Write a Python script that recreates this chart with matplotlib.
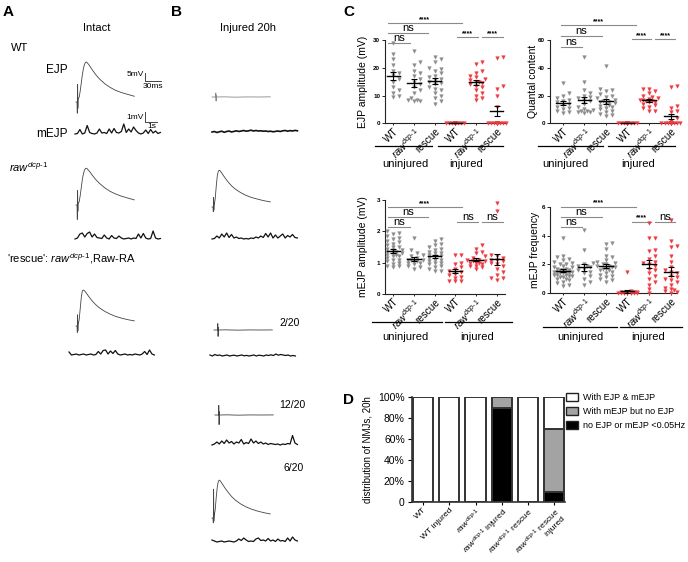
import numpy as np
import matplotlib
matplotlib.use('Agg')
import matplotlib.pyplot as plt
from matplotlib.lines import Line2D
from matplotlib.patches import Patch

plt.rcParams['font.family'] = ['Liberation Sans', 'DejaVu Sans']
plt.rcParams['mathtext.fontset'] = 'custom'
plt.rcParams['mathtext.rm'] = 'Liberation Sans'
plt.rcParams['mathtext.it'] = 'Liberation Sans:italic'
plt.rcParams['mathtext.bf'] = 'Liberation Sans:bold'

RAW = r'$\mathit{raw}^{\mathit{dcp}\text{-}\mathit{1}}$'

# ---------------- data: traces (A, B) ----------------
EJP_T = [0, 2, 2.5, 3, 3.5, 4, 6, 8, 10, 12, 14, 16, 18, 20, 25, 31, 37, 44, 54, 64, 74, 85, 97, 110]  # ms
EJP_WT_A = [0, 0, -7, 11, -4, 2, 3, 7, 12, 17, 21, 23.5, 24.8, 25, 23, 20, 17.2, 14.5, 11.5, 9.2, 7.4, 6, 4.8, 3.6]
EJP_RAW_A = [0, 0, -9, 9, -4, 1, 2, 6, 11, 16, 19.5, 21.8, 22.8, 23, 21.2, 18.5, 16, 13.6, 10.8, 8.6, 7, 5.6, 4.4, 3.2]
EJP_RESC_A = [0, 0, -4, 7, -3, 1, 4, 11, 18, 22, 22.5, 22, 21.2, 20.3, 18, 15.5, 13.4, 11.4, 9.2, 7.5, 6.1, 5, 4, 3.2]
EJP_RAW_B = [0, 0, -3, 6, -2, 1, 5, 13, 19.5, 22.5, 23, 22.4, 21.4, 20.4, 18, 15.4, 13.2, 11.2, 9, 7.3, 6, 5, 4, 3.2]
EJP_620_B = [0, 0, -3, 18, -2, 1, 5, 13, 19.5, 23, 23.7, 23, 22, 21, 18.5, 15.8, 13.4, 11.2, 8.8, 7, 5.6, 4.4, 3.4, 2.5]
FLAT_T = [0, 6, 6.5, 7, 7.5, 8, 20, 40, 60, 80, 100]  # ms
EJP_WT_B = [0, 0, 2.5, -2.5, 1, 0, 0.1, -0.1, 0.05, 0, 0.1]
EJP_220_B = [0, 0, 4, -4, 1.5, 0, 0.1, -0.1, 0.05, 0, 0.05]
EJP_1220_B = [0, 0, 6, -6, 2, 0, 0.1, -0.1, 0.05, 0, 0.05]

MEJP_DT = 0.2  # s per sample
MEJP_WT_A = [0.0, 0.05, 0.45, 0.0, 0.1, 0.85, 0.15, 0.05, 0.0, 0.1, 0.5, 0.1, 0.15, 0.05, 0.5, 0.1, 0.55, 0.15,
             0.1, 0.25, 1.0, 0.15, 0.5, 0.2, 0.7, 0.35, 0.1, 0.0, 0.1, 0.4, 0.05, 0.45, 0.1, 0.3, 0.05, 0.15]
MEJP_RAW_A = [0.0, 0.1, 0.5, 0.6, 0.2, 0.55, 0.7, 0.2, 0.5, 0.15, 0.1, 0.05, 0.4, 0.1, 0.0, 0.35, 0.1, 0.05,
              0.3, 0.1, 0.0, 0.05, 0.1, 0.0, 0.1, 0.05, 0.5, 0.1, 0.55, 0.1, 0.0, 0.05, 0.8, 0.1, 0.0, 0.05]
MEJP_RESC_A = [0.3, 0.0, 0.05, 0.1, 0.0, 0.05, 0.1, 0.0, 0.05, 0.1, 0.0, 0.05, 0.35, 0.1, 0.45, 0.5, 0.1, 0.4,
               0.15, 0.45, 0.1, 0.0, 0.05, 0.1, 0.0, 0.05, 0.0, 0.1, 0.05, 0.0, 0.1, 0.35, 0.05, 0.5, 0.1, 0.0]
MEJP_WT_B = [0.0, 0.05, -0.05, 0.02, 0.08, -0.03, 0.05, 0.1, 0.0, 0.06, 0.12, 0.05, 0.1, 0.15, 0.08, 0.12, 0.18, 0.1,
             0.15, 0.1, 0.12, 0.08, 0.1, 0.05, 0.08, 0.02, 0.06, 0.1, 0.05, 0.12, 0.15, 0.08, 0.14, 0.1, 0.16, 0.12]
MEJP_RAW_B = [0.0, 0.05, 0.3, 0.1, 0.5, 0.2, 0.6, 0.15, 0.45, 0.1, 0.2, 0.05, 0.1, 0.0, 0.05, 0.0, 0.1, 0.05,
              0.2, 0.1, 0.3, 0.15, 0.55, 0.2, 0.6, 0.1, 0.4, 0.1, 0.3, 0.5, 0.1, 0.35, 0.2, 0.45, 0.15, 0.1]
MEJP_220_B = [0.1, 0.0, 0.15, 0.05, 0.1, 0.0, 0.05, 0.1, 0.0, 0.05, 0.08, 0.0, 0.05, 0.1, 0.02, 0.06, 0.0, 0.05,
              0.1, 0.0, 0.08, 0.05, 0.0, 0.1, 0.05, 0.12, 0.05, 0.2, 0.08, 0.15, 0.1, 0.05, 0.1, 0.0, 0.05, 0.0]
MEJP_1220_B = [0.0, 0.1, 0.3, 0.1, 0.4, 0.15, 0.5, 0.2, 0.35, 0.1, 0.3, 0.2, 0.55, 0.1, 0.25, 0.15, 0.6, 0.2,
               0.4, 0.15, 0.3, 0.1, 0.2, 0.05, 0.15, 0.1, 0.05, 0.1, 0.0, 0.1, 0.05, 0.15, 0.1, 0.95, 0.2, 0.05]
MEJP_620_B = [0.2, 0.1, 0.0, 0.05, 0.1, 0.0, 0.05, 0.1, 0.05, 0.0, 0.1, 0.3, 0.15, 0.4, 0.2, 0.05, 0.1, 0.05,
              0.3, 0.4, 0.15, 0.2, 0.1, 0.35, 0.1, 0.2, 0.05, 0.3, 0.1, 0.15, 0.05, 0.4, 0.1, 0.5, 0.2, 0.1]

# ---------------- data: panel C ----------------
C_GROUPS = ['WT', RAW, 'rescue', 'WT', RAW, 'rescue']
EJP_AMP = [
    [29, 25, 23, 21, 19, 18, 17.5, 16, 15, 13, 12, 11, 10, 9.5],
    [26, 22, 21, 19, 18, 17, 16, 15, 14, 12, 11, 9, 8.5, 8, 8, 8.5, 13],
    [24, 23, 22, 20, 19.5, 19, 18, 17, 16, 15.5, 15, 14, 13, 12.5, 12, 11, 10, 9, 8, 7, 14.5, 16.5],
    [0] * 14,
    [22, 21.5, 19, 18, 17, 16.5, 16, 15.5, 15, 14.5, 14, 13, 12, 11, 10, 9, 8.5, 13.5, 15],
    [24, 23.5, 13.5, 12.5, 10, 6] + [0] * 14,
]
QUANTAL = [
    [29, 22, 20, 18, 17, 16, 15, 14, 13, 12, 11, 10, 9, 8, 7.5],
    [48, 30, 24, 22, 20, 19, 18, 17, 16, 14, 12, 10, 9, 8.5, 8, 8, 7.5, 9.5],
    [41, 25, 24, 23, 21, 20, 19, 18, 17, 16, 15.5, 15, 14, 13, 12, 11, 10, 9, 8, 7, 6, 5.5, 12.5, 14.5],
    [0] * 14,
    [25, 25, 23, 22, 20, 19, 18, 17.5, 17, 16.5, 16, 15.5, 15, 14, 13, 12, 11, 9, 8.5, 16],
    [27, 26.5, 12.5, 11, 9, 8, 4, 2] + [0] * 12,
]
MEJP_AMP = [
    [2.0, 1.95, 1.9, 1.85, 1.8, 1.75, 1.7, 1.65, 1.6, 1.55, 1.5, 1.45, 1.4, 1.4, 1.35, 1.3, 1.3, 1.25, 1.2, 1.2,
     1.15, 1.1, 1.1, 1.05, 1.0, 0.95, 0.9, 0.9, 0.85, 1.25, 1.35, 1.5],
    [1.8, 1.4, 1.3, 1.25, 1.2, 1.15, 1.1, 1.1, 1.05, 1.0, 1.0, 0.95, 0.9, 0.85, 0.8, 1.05, 1.1],
    [1.75, 1.7, 1.6, 1.55, 1.5, 1.45, 1.4, 1.35, 1.3, 1.25, 1.2, 1.2, 1.15, 1.1, 1.05, 1.0, 0.95, 0.9, 0.85, 0.8,
     0.75, 0.75, 1.3, 1.1, 1.0],
    [1.25, 1.25, 1.0, 0.95, 0.85, 0.8, 0.75, 0.7, 0.65, 0.6, 0.5, 0.4, 0.4, 0.4, 0.55],
    [1.55, 1.45, 1.35, 1.3, 1.2, 1.15, 1.1, 1.05, 1.05, 1.0, 1.0, 0.95, 0.9, 0.9, 0.85, 0.8, 1.1, 1.0],
    [2.9, 2.65, 1.25, 1.2, 1.15, 1.1, 1.05, 1.0, 0.95, 0.9, 0.8, 0.7, 0.6, 0.5, 0.5, 0.45, 1.1],
]
MEJP_FREQ = [
    [3.85, 2.6, 2.5, 2.4, 2.3, 2.2, 2.1, 2.0, 2.0, 1.9, 1.8, 1.8, 1.7, 1.7, 1.6, 1.6, 1.5, 1.5, 1.5, 1.4, 1.4,
     1.3, 1.3, 1.2, 1.2, 1.1, 1.1, 1.0, 1.0, 0.9, 0.8, 0.7, 0.6, 0.5, 1.5, 1.6, 1.4, 1.3],
    [4.4, 3.0, 2.0, 1.9, 1.8, 1.7, 1.6, 1.5, 1.4, 1.2, 1.0, 0.8, 0.6, 1.9, 2.1],
    [3.5, 3.4, 3.1, 2.6, 2.5, 2.3, 2.2, 2.1, 2.0, 1.9, 1.8, 1.8, 1.7, 1.6, 1.5, 1.4, 1.3, 1.2, 1.1, 1.0, 0.9,
     0.8, 1.7, 1.9, 2.0, 1.6],
    [1.5, 0.15, 0.1, 0.1, 0.05, 0.05, 0.05, 0, 0, 0, 0, 0, 0.05, 0.1, 0.1, 0],
    [4.9, 3.8, 3.8, 3.0, 2.9, 2.6, 2.4, 2.2, 2.0, 1.9, 1.7, 1.6, 1.4, 1.2, 1.0, 0.8, 0.6, 0.3, 0.0, 2.1],
    [5.1, 3.6, 3.3, 3.2, 2.6, 2.2, 1.8, 1.6, 1.5, 1.4, 1.2, 1.1, 0.9, 0.8, 0.6, 0.4, 0.3, 0.2, 0.15, 0.1, 0.05, 1.0],
]

# ---------------- data: panel D ----------------
D_LABELS = ['WT', 'WT injured', RAW, RAW + ' injured', RAW + ' rescue', RAW + ' rescue\ninjured']
D_BLACK = [0, 0, 0, 90, 0, 10]
D_GREY = [0, 0, 0, 10, 0, 60]
D_WHITE = [100, 100, 100, 0, 100, 30]
D_LEGEND = ['With EJP & mEJP', 'With mEJP but no EJP', 'no EJP or mEJP <0.05Hz']

# ---------------- figure helpers ----------------
W, H = 688, 562
fig = plt.figure(figsize=(W / 100, H / 100), dpi=100)
fig.patch.set_facecolor('white')


def px_axes(x0, y0, x1, y1):
    return fig.add_axes([x0 / W, 1 - y1 / H, (x1 - x0) / W, (y1 - y0) / H])


def ftext(x, y, s, **kw):
    kw.setdefault('va', 'center')
    return fig.text(x / W, 1 - y / H, s, **kw)


def fline(x0, x1, y, color='k', lw=0.9):
    fig.add_artist(Line2D([x0 / W, x1 / W], [1 - y / H, 1 - y / H], color=color, lw=lw,
                          transform=fig.transFigure))


EJP_XS = 0.53   # px per ms
EJP_YS = 1.6    # px per mV
M_XS = 12.2     # px per s
M_YS = 10.0     # px per mV


def trace(x0, ybase, t, v, xs, ys, lw=0.6, color='#444444'):
    t = np.asarray(t, float)
    v = np.asarray(v, float)
    lo, hi = v.min(), v.max()
    ax = px_axes(x0 + t[0] * xs, ybase - hi * ys, x0 + t[-1] * xs, ybase - lo * ys)
    ax.plot(t, v, color=color, lw=lw, clip_on=False, solid_joinstyle='round')
    ax.set_xlim(t[0], t[-1])
    ax.set_ylim(lo, hi)
    ax.axis('off')
    return ax


def mejp(x0, ybase, v, lw=0.9):
    t = np.arange(len(v)) * MEJP_DT
    return trace(x0, ybase, t, v, M_XS, M_YS, lw=lw, color='#111111')


# ---------------- panels A & B ----------------
ftext(3, 12, 'A', fontsize=11, fontweight='bold')
ftext(171, 12, 'B', fontsize=11, fontweight='bold')
ftext(97, 28, 'Intact', fontsize=8, ha='center')
ftext(248, 28, 'Injured 20h', fontsize=8, ha='center')
ftext(11, 48, 'WT', fontsize=8)
ftext(68, 70, 'EJP', fontsize=8.5, ha='right')
ftext(68, 134, 'mEJP', fontsize=8.5, ha='right')
ftext(9, 167, RAW, fontsize=8)
ftext(7, 259, "'rescue': " + RAW + ",Raw-RA", fontsize=8)

trace(76, 102, EJP_T, EJP_WT_A, EJP_XS, EJP_YS)
trace(76, 205, EJP_T, EJP_RAW_A, EJP_XS, EJP_YS)
trace(76, 326, EJP_T, EJP_RESC_A, EJP_XS, EJP_YS)
mejp(75, 134, MEJP_WT_A)
mejp(75, 239, MEJP_RAW_A)
mejp(69, 355, MEJP_RESC_A)

# scale bars
sb = px_axes(145, 72.5, 145 + 30 * EJP_XS, 72.5 + 5 * EJP_YS)
sb.plot([0, 0, 30], [5, 0, 0], color='#444444', lw=0.7, clip_on=False)
sb.set_xlim(0, 30); sb.set_ylim(0, 5); sb.axis('off')
ftext(144, 75, '5mV', fontsize=6, ha='right')
ftext(153, 86, '30ms', fontsize=6, ha='center')
sb2 = px_axes(145, 112, 145 + 1 * M_XS, 112 + 1 * M_YS)
sb2.plot([0, 0, 1], [1, 0, 0], color='#444444', lw=0.7, clip_on=False)
sb2.set_xlim(0, 1); sb2.set_ylim(0, 1); sb2.axis('off')
ftext(144, 117, '1mV', fontsize=6, ha='right')
ftext(152, 127, '1s', fontsize=6, ha='center')

trace(212, 97, FLAT_T, EJP_WT_B, EJP_XS * 1.1, EJP_YS, color='#888888')
mejp(212, 132, MEJP_WT_B, lw=1.2)
trace(212, 207, EJP_T, EJP_RAW_B, EJP_XS, EJP_YS)
mejp(212, 239, MEJP_RAW_B)
trace(214, 330, FLAT_T, EJP_220_B, EJP_XS * 1.1, EJP_YS)
mejp(210, 356, MEJP_220_B)
trace(215, 415, FLAT_T, EJP_1220_B, EJP_XS * 1.1, EJP_YS)
mejp(212, 445, MEJP_1220_B)
trace(212, 518, EJP_T, EJP_620_B, EJP_XS, EJP_YS)
mejp(212, 542, MEJP_620_B)
ftext(279, 323, '2/20', fontsize=7.5)
ftext(279, 405, '12/20', fontsize=7.5)
ftext(284, 468, '6/20', fontsize=7.5)

# ---------------- panel C ----------------
GREY = '#8c8c8c'
RED = '#ee3b42'
ftext(343, 12, 'C', fontsize=11, fontweight='bold')


def swarm(vals, ppu, step=3.0, size=3.6, maxoff=9.0):
    vals = np.asarray(vals, float)
    offs = np.zeros(len(vals))
    placed = []
    cands = [0.0]
    k = 1
    while k * step <= maxoff:
        cands += [k * step, -k * step]
        k += 1
    for i in np.argsort(vals, kind='stable'):
        y = vals[i] * ppu
        best, bestd = cands[0], -1
        for c in cands:
            d = min([max(abs(c - po) / size, abs(y - py) / size) for po, py in placed] + [9])
            if d >= 1:
                best = c
                break
            if d > bestd:
                best, bestd = c, d
        offs[i] = best
        placed.append((best, y))
    return offs


def scatter_panel(rect, data, ytop, yticks, xl, spacing, sigs, ylabel, ylab_x):
    ax = px_axes(*rect)
    ppu = (rect[3] - rect[1]) / ytop
    for i, vals in enumerate(data):
        vals = np.asarray(vals, float)
        col = GREY if i < 3 else RED
        offs = swarm(vals, ppu) / spacing
        ax.plot(i + offs, vals, 'v', ms=2.6, color=col, mec=col, mew=0.3, clip_on=False, zorder=3)
        m = vals.mean()
        se = vals.std(ddof=1) / np.sqrt(len(vals))
        ax.plot([i - 0.32, i + 0.32], [m, m], color='k', lw=1.0, zorder=4, clip_on=False)
        ax.errorbar([i], [m], yerr=[se], color='k', lw=0.8, capsize=2.2, capthick=0.8, zorder=4)
    ax.set_xlim(*xl)
    ax.set_ylim(0, ytop)
    ax.set_yticks(yticks)
    ax.set_yticklabels([str(v) for v in yticks], fontsize=4.5, fontweight='bold')
    ax.set_xticks(range(6))
    ax.set_xticklabels(C_GROUPS, rotation=45, ha='right', va='top', rotation_mode='anchor', fontsize=7.2)
    ax.tick_params(axis='y', length=2, width=0.6, pad=1.5)
    ax.tick_params(axis='x', length=1.5, width=0.6, pad=0.5)
    for s in ['top', 'right']:
        ax.spines[s].set_visible(False)
    for s in ['left', 'bottom']:
        ax.spines[s].set_linewidth(0.8)
        ax.spines[s].set_color('#222222')
    for (a, b, y, txt) in sigs:
        ax.plot([a, b], [y, y], color='#8a8a8a', lw=0.8, clip_on=False)
        if txt == 'ns':
            ax.text((a + b) / 2, y, 'ns', fontsize=8, ha='center', va='bottom', clip_on=False)
        else:
            ax.text((a + b) / 2, y, '****', fontsize=5, fontweight='bold', ha='center', va='bottom', clip_on=False)
    ftext(ylab_x, (rect[1] + rect[3]) / 2, ylabel, fontsize=7.5, rotation=90, ha='center')
    return ax


C1_SIG = [(-0.25, 3.3, 36, '****'), (-0.25, 1.7, 32.4, 'ns'), (-0.25, 0.8, 28.8, 'ns'),
          (3.1, 4.1, 31, '****'), (4.3, 5.3, 31, '****')]
scatter_panel((385, 40, 505, 123.3), EJP_AMP, 30, [0, 10, 20, 30], (-0.4, 5.4), 20.5, C1_SIG,
              'EJP amplitude (mV)', 363)
C2_SIG = [(-0.1, 3.4, 70.8, '****'), (-0.1, 1.8, 62.9, 'ns'), (-0.1, 0.9, 55.2, 'ns'),
          (3.2, 4.1, 60.5, '****'), (4.3, 5.2, 60.5, '****')]
scatter_panel((550, 40, 677, 123.3), QUANTAL, 60, [0, 20, 40, 60], (-0.6, 5.3), 21.4, C2_SIG,
              'Quantal content', 533)
C3_SIG = [(-0.25, 3.3, 2.77, '****'), (-0.25, 1.7, 2.47, 'ns'), (-0.25, 0.8, 2.13, 'ns'),
          (3.1, 4.1, 2.29, 'ns'), (4.3, 5.3, 2.29, 'ns')]
scatter_panel((385, 200, 505, 294), MEJP_AMP, 3, [0, 1, 2, 3], (-0.4, 5.4), 20.5, C3_SIG,
              'mEJP amplitude (mV)', 363)
C4_SIG = [(-0.1, 3.4, 6.0, '****'), (-0.1, 1.8, 5.3, 'ns'), (-0.1, 0.9, 4.6, 'ns'),
          (3.2, 4.1, 4.96, '****'), (4.3, 5.2, 4.96, 'ns')]
scatter_panel((550, 206.7, 677, 293.3), MEJP_FREQ, 6, [0, 2, 4, 6], (-0.6, 5.3), 21.4, C4_SIG,
              'mEJP frequency', 535)

# group underlines
for (x0, x1, x2, x3, yl, yt, cu, ci) in [(375, 432, 438, 503, 146, 164, 405, 466),
                                         (538, 603, 608, 675, 146, 164, 565, 638),
                                         (372, 442, 445, 512, 321.7, 337, 405, 477),
                                         (543, 617, 620, 682, 326.7, 337, 580, 648)]:
    fline(x0, x1, yl)
    fline(x2, x3, yl)
    ftext(cu, yt, 'uninjured', fontsize=8, ha='center')
    ftext(ci, yt, 'injured', fontsize=8, ha='center')

# ---------------- panel D ----------------
ftext(343, 400, 'D', fontsize=11, fontweight='bold')
axd = px_axes(411.7, 397.3, 565, 502.3)
xd = np.arange(len(D_LABELS))
black = np.array(D_BLACK, float)
grey = np.array(D_GREY, float)
white = np.array(D_WHITE, float)
EC = '#333333'
axd.bar(xd, black, width=0.77, color='black', edgecolor=EC, lw=1.4, zorder=2)
axd.bar(xd, grey, bottom=black, width=0.77, color='#a3a3a3', edgecolor=EC, lw=1.4, zorder=2)
axd.bar(xd, white, bottom=black + grey, width=0.77, color='white', edgecolor=EC, lw=1.4, zorder=2)
axd.set_xlim(-0.44, 5.42)
axd.set_ylim(0, 100)
axd.set_yticks([0, 20, 40, 60, 80, 100])
axd.set_yticklabels(['0', '20%', '40%', '60%', '80%', '100%'], fontsize=7.5)
axd.set_xticks(xd)
axd.set_xticklabels(D_LABELS, rotation=45, ha='right', va='top', rotation_mode='anchor', fontsize=6.1,
                    linespacing=0.95)
axd.tick_params(axis='y', length=3, width=0.8, pad=2)
axd.tick_params(axis='x', length=2.0, width=0.8, pad=1.0)
for s in ['top', 'right']:
    axd.spines[s].set_visible(False)
for s in ['left', 'bottom']:
    axd.spines[s].set_linewidth(1.2)
    axd.spines[s].set_color('#333333')
ftext(368, 450, 'distribution of NMJs, 20h', fontsize=7, rotation=90, ha='center')
handles = [Patch(facecolor=c, edgecolor='#222222', lw=1.0) for c in ['white', '#a3a3a3', 'black']]
fig.legend(handles, D_LEGEND, loc='upper left', bbox_to_anchor=(566 / W, 1 - 393 / H), frameon=False,
           fontsize=6.5, handlelength=1.3, handleheight=0.9, handletextpad=0.6, labelspacing=0.55,
           borderaxespad=0, borderpad=0)

fig.savefig('out.png', dpi=100, facecolor='white')
